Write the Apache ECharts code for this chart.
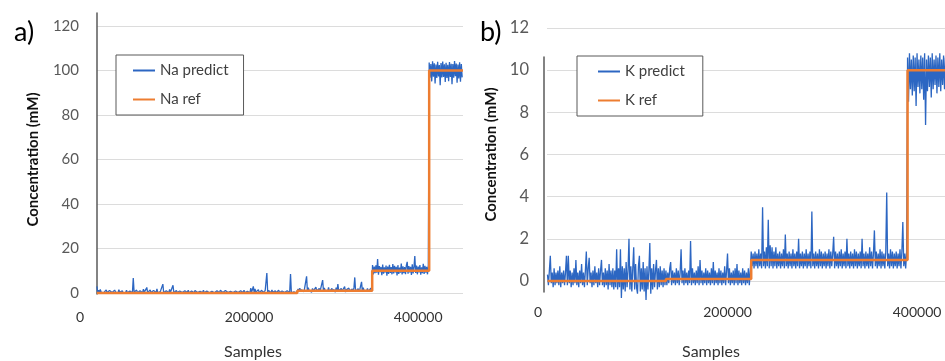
<!DOCTYPE html>
<html>
<head>
<meta charset="utf-8">
<script src="https://cdn.jsdelivr.net/npm/echarts@6/dist/echarts.min.js"></script>
<style>
html,body{margin:0;padding:0;background:#fff;}
#chart{width:945px;height:361px;}
</style>
</head>
<body>
<div id="chart"></div>
<script>
// one logged value every sampleStep samples, from the given first sample
const sampleStep = 1000;

const naPredictStart = 20000;
const naPredict = [
  // ~0 mM
  3.0, 0.3, 1.2, 0.1, 1.6, 0.4, 0.2, 1.0, 0.1, 0.8, 0.3, 1.4, 0.2, 0.6, 0.1, 1.1, 0.3, 0.5, 0.2, 0.9,
  0.1, 1.3, 0.4, 0.2, 0.8, 0.1, 1.5, 0.3, 0.6, 0.2, 1.0, 0.1, 0.7, 0.4, 0.2, 1.2, 0.1, 0.5, 0.3, 0.9,
  0.2, 1.1, 0.1, 6.7, 0.3, 0.8, 0.2, 1.3, 0.1, 0.6, 0.4, 1.0, 0.2, 0.5, 0.1, 1.7, 0.3, 0.7, 0.2, 2.5,
  0.1, 0.9, 0.3, 1.4, 0.2, 0.6, 0.1, 1.1, 0.4, 0.5, 0.2, 1.9, 0.1, 0.8, 0.3, 0.6, 0.2, 1.2, 4.0, 0.1,
  0.7, 0.3, 1.0, 0.2, 0.5, 0.1, 1.6, 0.3, 0.8, 0.2, 3.5, 0.1, 0.6, 0.4, 1.1, 0.2, 0.5, 0.1, 0.9, 0.3,
  1.2, 0.2, 0.6, 0.1, 1.0, 0.3, 0.5, 0.2, 1.3, 0.1, 0.7, 0.4, 0.9, 0.2, 0.5, 0.1, 1.1, 0.3, 0.6, 0.2,
  1.0, 0.1, 0.8, 0.3, 0.5, 0.2, 1.2, 0.1, 0.6, 0.4, 0.9, 0.2, 1.1, 0.1, 0.5, 0.3, 0.8, 0.2, 1.3, 0.1,
  0.6, 0.3, 1.0, 0.2, 0.7, 0.1, 1.2, 0.4, 0.5, 0.2, 0.9, 0.1, 1.1, 0.3, 0.6, 0.2, 1.0, 0.1, 0.7, 0.3,
  1.2, 0.2, 0.5, 0.1, 0.9, 0.4, 1.1, 0.2, 0.6, 0.1, 1.0, 0.3, 0.7, 0.2, 1.3, 0.1, 0.5, 0.3, 0.8, 0.2,
  1.1, 0.1, 2.2, 0.3, 0.9, 3.0, 0.2, 1.8, 0.4, 1.2, 0.2, 1.5, 0.1, 0.8, 0.3, 1.3, 0.2, 0.6, 0.1, 1.0,
  0.3, 9.0, 0.2, 1.1, 0.4, 0.7, 0.1, 1.4, 0.3, 0.6, 0.2, 1.0, 0.1, 0.8, 0.4, 1.2, 0.2, 0.5, 0.1, 0.9,
  0.3, 1.1, 0.2, 0.6, 0.1, 1.0, 0.4, 0.7, 0.2, 8.5, 0.1, 0.8, 0.3, 0.5, 0.2, 0.9, 0.1,
  // ~1 mM
  0.6, 1.8, 0.9, 2.2, 0.5, 1.5, 0.8, 2.0, 0.6, 1.3, 0.9, 7.5, 0.5, 2.4, 1.1, 0.7, 1.9, 0.4, 2.1, 0.8,
  1.6, 0.5, 2.6, 0.9, 1.2, 0.6, 2.0, 0.8, 1.4, 0.5, 5.8, 0.7, 2.3, 1.0, 0.4, 1.7, 0.9, 2.5, 0.6, 1.3,
  0.8, 2.1, 0.5, 1.6, 1.0, 0.4, 2.4, 0.7, 4.0, 0.9, 1.5, 0.5, 2.0, 0.8, 1.2, 0.6, 2.9, 0.4, 1.4, 1.1,
  0.6, 2.2, 0.9, 1.5, 0.5, 1.8, 0.7, 2.3, 7.0, 0.6, 1.3, 0.9, 2.0, 0.5, 1.6, 0.8, 5.0, 0.6, 2.4, 1.0,
  0.5, 1.7, 0.8, 2.1, 0.6, 1.4, 0.9, 2.2, 0.7,
  // ~10 mM
  12.6, 8.3, 11.9, 8.9, 12.4, 9.1, 15.3, 8.2, 12.1, 9.4, 11.7, 8.0, 12.8, 8.7, 11.5, 9.2, 12.3, 7.8, 11.9, 8.6,
  12.7, 9.0, 11.6, 8.4, 13.0, 8.8, 12.2, 9.3, 11.8, 7.9, 12.5, 8.6, 11.4, 9.1, 13.2, 8.3, 12.0, 8.9, 11.7, 8.5,
  12.4, 14.0, 8.7, 12.1, 9.2, 11.8, 8.1, 12.9, 8.8, 11.6, 16.6, 9.0, 12.3, 8.4, 11.9, 9.3, 12.6, 8.2, 11.5, 8.9,
  13.1, 8.6, 12.2, 9.1, 11.8, 8.4, 12.5,
  // ~100 mM
  103.6, 96.8, 102.9, 95.1, 104.1, 97.2, 103.2, 94.2, 102.7, 96.6, 103.9, 97.3, 102.5, 93.4, 103.4, 96.9, 104.0, 97.1, 102.8, 94.8,
  103.5, 96.7, 102.6, 95.2, 103.8, 97.1, 103.0, 93.8, 102.9, 96.8, 104.2, 97.4, 103.1, 94.5, 102.7, 96.4, 103.7, 95.0, 102.9, 96.9
];
const naRefX = [20000, 257000, 345600, 413000, 453000];
const naRefY = [0, 1, 10, 100, 100];

const kPredictStart = 10000;
const kPredict = [
  // ~0 mM
  0.3, -0.2, 0.5, 1.2, -0.1, 0.4, -0.3, 0.6, -0.2, 0.4, -0.1, 0.5, -0.2, 0.7, -0.3, 0.4, -0.1, 0.5, -0.2, 0.4,
  1.2, -0.2, 1.2, -0.1, 0.5, -0.3, 0.4, -0.2, 0.6, -0.1, 1.0, -0.2, 0.4, -0.3, 0.5, -0.1, 0.8, -0.2, 0.4, -0.3,
  0.5, 1.4, -0.2, 0.6, 1.1, -0.1, 0.4, -0.3, 0.5, -0.2, 0.7, -0.1, 0.4, -0.3, 0.6, -0.2, 0.5, 1.0, -0.2, 0.4,
  -0.3, 0.6, -0.2, 0.5, -0.4, 0.8, -0.2, 0.5, -0.3, 0.6, -0.4, 0.5, -0.3, 1.5, -0.4, 0.6, -0.3, 1.5, -0.8, 0.7,
  -0.4, 0.6, -0.5, 0.9, -0.3, 0.5, 2.0, -0.4, 0.7, -0.5, 0.6, 1.6, -0.4, 0.8, -0.3, -0.6, 0.7, 1.2, -0.5, 0.6,
  -0.4, 0.9, -0.5, 0.6, -0.9, 0.7, -0.4, 0.5, 1.8, -0.6, 0.6, -0.4, 0.8, -0.3, 0.5, 1.0, -0.4, 0.6, -0.3, 0.7,
  -0.2, 0.5, -0.3, 0.6, -0.2,
  // ~0.1 mM
  0.5, -0.2, 0.4, -0.1, 0.6, 0.9, -0.2, 0.5, -0.1, 0.4, -0.2, 0.6, -0.1, 0.5, -0.2, 0.4, 1.5, -0.1, 0.5, -0.2,
  0.6, -0.1, 0.4, -0.2, 0.5, -0.1, 1.9, -0.2, 0.6, -0.1, 0.4, -0.2, 0.5, -0.1, 0.7, -0.2, 1.0, -0.1, 0.5, -0.2,
  0.4, -0.1, 0.6, -0.2, 0.5, -0.1, 0.4, -0.2, 0.6, -0.1, 0.9, -0.2, 0.5, -0.1, 0.4, -0.2, 0.6, -0.1, 0.5, -0.2,
  0.4, -0.1, 0.7, -0.2, 0.5, 1.3, -0.1, 0.6, -0.2, 0.4, -0.1, 0.5, -0.2, 0.6, -0.1, 0.8, -0.2, 0.5, -0.1, 0.4,
  -0.2, 0.6, -0.1, 0.5, -0.2, 0.4, -0.1, 0.6, -0.2, 0.5,
  // ~1 mM
  1.4, 0.7, 1.3, 0.6, 1.4, 0.7, 1.3, 0.6, 1.5, 0.7, 1.3, 0.6, 3.5, 0.7, 1.4, 0.6, 1.6, 0.7, 2.9, 0.6,
  1.7, 0.7, 1.6, 0.6, 1.4, 0.7, 1.6, 0.6, 1.3, 0.7, 1.4, 0.6, 1.3, 0.7, 1.5, 0.6, 2.2, 0.7, 1.3, 0.6,
  1.4, 0.7, 1.3, 0.6, 1.5, 0.7, 1.3, 0.6, 1.4, 0.7, 2.0, 0.6, 1.3, 0.7, 1.4, 0.6, 1.3, 0.7, 1.5, 0.6,
  1.3, 0.7, 1.4, 0.6, 3.3, 0.7, 1.3, 0.6, 1.4, 0.7, 1.3, 0.6, 1.5, 0.7, 1.4, 0.6, 1.3, 0.7, 1.4, 0.6,
  1.3, 0.7, 1.5, 0.6, 1.4, 0.7, 1.3, 2.1, 0.6, 1.4, 0.7, 1.3, 0.6, 1.4, 0.7, 1.5, 0.6, 1.3, 0.7, 1.4,
  0.6, 2.0, 0.7, 1.3, 0.6, 1.4, 0.7, 1.3, 0.6, 1.5, 0.7, 1.4, 0.6, 1.3, 0.7, 1.4, 0.6, 2.0, 0.7, 1.3,
  0.6, 1.4, 0.7, 1.3, 0.6, 1.6, 0.7, 1.4, 0.6, 1.3, 2.4, 0.7, 1.4, 0.6, 1.3, 0.7, 1.5, 0.6, 1.4, 0.7,
  1.3, 0.6, 1.4, 4.2, 0.7, 1.3, 0.6, 1.5, 0.7, 1.4, 0.6, 1.3, 0.7, 1.4, 0.6, 1.3, 0.7, 1.5, 0.6, 1.4,
  2.8, 0.7, 1.3, 0.6, 1.4,
  // ~10 mM
  10.6, 8.5, 10.8, 9.1, 10.5, 8.8, 10.7, 9.0, 10.6, 8.3, 10.8, 9.2, 10.5, 8.9, 10.7, 9.1, 10.6, 8.6, 10.8, 7.4,
  10.5, 9.0, 10.7, 9.2, 10.6, 8.7, 10.8, 9.1, 10.5, 9.3, 10.7, 8.9, 10.6, 9.2, 10.8, 9.0, 10.5, 9.3, 10.7, 9.1,
  10.6
];
const kRefX = [10000, 135000, 225000, 390000, 430000];
const kRefY = [0, 0.1, 1, 10, 10];

const xTicks = [0, 200000, 400000];
const naTicks = [0, 20, 40, 60, 80, 100, 120];
const kTicks = [0, 2, 4, 6, 8, 10, 12];

const BLUE = '#2c66c2';
const ORANGE = '#ed7d31';
const FONT = 'Lato, sans-serif';

function logged(start, vals){
    return vals.map((v, i) => [start + i*sampleStep, v]);
}
function pairs(xs, ys){
    return xs.map((x, i) => [x, ys[i]]);
}

function sampleAxis(grid, max, labelMargin, nameGap, shift){
    return {
        gridIndex: grid, type: 'value', min: 0, max: max, interval: xTicks[1]-xTicks[0],
        axisLine: {show: false}, axisTick: {show: false}, splitLine: {show: false},
        axisLabel: {
            margin: labelMargin, fontSize: 14, color: '#333', fontFamily: FONT,
            formatter: v => xTicks.indexOf(v) >= 0 ? String(v) : ''
        },
        name: 'Samples', nameLocation: 'middle', nameGap: nameGap,
        nameTextStyle: {fontSize: 16, color: '#333', fontFamily: FONT, padding: [0, shift, 0, 0]}
    };
}
function concAxis(grid, ticks, fontSize, nameGap){
    return {
        gridIndex: grid, type: 'value', min: ticks[0], max: ticks[ticks.length-1], interval: ticks[1]-ticks[0],
        axisLine: {show: false}, axisTick: {show: false},
        splitLine: {lineStyle: {color: '#dcdcdc', width: 1}},
        axisLabel: {margin: 18, fontSize: fontSize, color: '#595959', fontFamily: FONT},
        name: 'Concentration (mM)', nameLocation: 'middle', nameRotate: 90, nameGap: nameGap,
        nameTextStyle: {fontSize: 15, fontWeight: 'bold', color: '#111', fontFamily: FONT}
    };
}
function lineAxis(grid){
    return {
        gridIndex: grid, type: 'value', min: 0, max: 1,
        axisLine: {show: true, lineStyle: {color: '#5a5a5a', width: 1.5}},
        axisTick: {show: false}, axisLabel: {show: false}, splitLine: {show: false}
    };
}
function hidden(grid, min, max){
    return {gridIndex: grid, type: 'value', show: false, min: min, max: max};
}
function legendBox(names, left, top, padding){
    return {
        data: names, orient: 'vertical', left: left, top: top, padding: padding,
        itemWidth: 22, itemHeight: 16, itemGap: 14,
        itemStyle: {opacity: 0},
        borderColor: '#595959', borderWidth: 1, backgroundColor: '#fff',
        textStyle: {fontSize: 15, color: '#404040', fontFamily: FONT}
    };
}
function predictSeries(name, x, y, data){
    return {
        name: name, type: 'line', xAxisIndex: x, yAxisIndex: y, data: data,
        symbol: 'none', clip: false, lineStyle: {color: BLUE, width: 1.3}, itemStyle: {color: BLUE}
    };
}
function refSeries(name, x, y, data){
    return {
        name: name, type: 'line', step: 'end', xAxisIndex: x, yAxisIndex: y, data: data,
        symbol: 'none', clip: false, lineStyle: {color: ORANGE, width: 2.5}, itemStyle: {color: ORANGE}
    };
}
function box(left, top, width, height){
    return {left: left, top: top, width: width, height: height, outerBoundsMode: 'none'};
}

let chart = echarts.init(document.getElementById('chart'));
chart.setOption({
    animation: false,
    backgroundColor: '#fff',
    textStyle: {fontFamily: FONT},
    title: [
        {text: 'a)', left: 9, top: 14, textStyle: {fontSize: 27, fontWeight: 'normal', color: '#000', fontFamily: FONT}},
        {text: 'b)', left: 475, top: 14, textStyle: {fontSize: 27, fontWeight: 'normal', color: '#000', fontFamily: FONT}}
    ],
    legend: [
        legendBox(['Na predict', 'Na ref'], 116, 55, [8, 15, 8, 16]),
        legendBox(['K predict', 'K ref'], 577, 56, [8, 18, 8, 20])
    ],
    grid: [
        box(80, 26, 383, 267),
        box(97, 26, 366, 267),
        box(97, 13, 10, 281),
        box(538, 28, 407, 253),
        box(547, 28, 398, 253),
        box(544, 57, 10, 235)
    ],
    xAxis: [
        sampleAxis(0, 453000, 17, 51, 37),
        hidden(1, 0, 1),
        hidden(2, 0, 1),
        sampleAxis(3, 429500, 24, 63, 61),
        hidden(4, 0, 1),
        hidden(5, 0, 1)
    ],
    yAxis: [
        hidden(0, naTicks[0], naTicks[naTicks.length-1]),
        concAxis(1, naTicks, 15, 56),
        lineAxis(2),
        hidden(3, kTicks[0], kTicks[kTicks.length-1]),
        concAxis(4, kTicks, 16.5, 48),
        lineAxis(5)
    ],
    series: [
        predictSeries('Na predict', 0, 0, logged(naPredictStart, naPredict)),
        refSeries('Na ref', 0, 0, pairs(naRefX, naRefY)),
        predictSeries('K predict', 3, 3, logged(kPredictStart, kPredict)),
        refSeries('K ref', 3, 3, pairs(kRefX, kRefY))
    ]
});
</script>
</body>
</html>
